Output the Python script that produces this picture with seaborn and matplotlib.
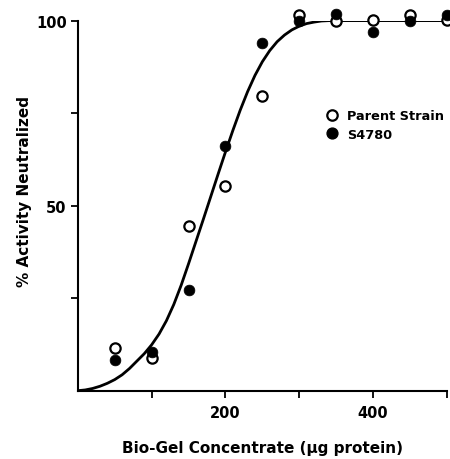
import matplotlib
matplotlib.use("Agg")
import matplotlib.pyplot as plt
import seaborn as sns
import pandas as pd
from matplotlib.lines import Line2D

# ---- data ----
conc = [50, 100, 150, 200, 250, 300, 350, 400, 450, 500]
parent_strain = [11.5, 8.8, 44.4, 55.2, 79.7, 101.5, 99.9, 100.1, 101.4, 100.3]
s4780 = [8.4, 10.4, 27.1, 66.2, 94.0, 100.0, 101.8, 96.9, 100.0, 101.4]

# fitted curve
curve_x = [0, 10, 20, 30, 40, 50, 60, 70, 80, 90, 100, 110, 120, 130, 140,
           150, 160, 170, 180, 190, 200, 210, 220, 230, 240, 250, 260, 270,
           280, 290, 300, 310, 320, 330, 340, 400, 450, 500]
curve_y = [0, 0.2, 0.6, 1.2, 2.0, 3.0, 4.3, 6.0, 8.0, 10.0, 12.4, 15.3, 18.9,
           23.3, 28.5, 34.3, 40.3, 46.3, 52.4, 58.5, 64.5, 70.3, 75.8, 80.8,
           85.2, 88.9, 91.9, 94.3, 96.1, 97.5, 98.5, 99.2, 99.6, 99.9, 100,
           100, 100, 100]

x_ticks = [100, 200, 300, 400, 500]
x_tick_labels = ["", "200", "", "400", ""]
y_ticks = [25, 50, 75, 100]
y_tick_labels = ["", "50", "", "100"]

series_names = ["Parent Strain", "S4780"]

sns.set_style("ticks")
plt.rcParams["font.family"] = ["DejaVu Sans"]
plt.rcParams["font.weight"] = "bold"
plt.rcParams["text.color"] = "black"
plt.rcParams["axes.labelcolor"] = "black"
plt.rcParams["xtick.color"] = "black"
plt.rcParams["ytick.color"] = "black"

fig = plt.figure(figsize=(4.5, 4.6), dpi=100)
ax = fig.add_axes([0.173, 0.1485, 0.82, 0.8045])

curve_df = pd.DataFrame({"x": curve_x, "y": curve_y})
sns.lineplot(data=curve_df, x="x", y="y", ax=ax, color="black", lw=2.0,
             estimator=None, sort=False, legend=False)

df_p = pd.DataFrame({"x": conc, "y": parent_strain})
df_s = pd.DataFrame({"x": conc, "y": s4780})
sns.scatterplot(data=df_p, x="x", y="y", ax=ax, s=55, facecolor="white",
                edgecolor="black", linewidth=1.6, zorder=4, clip_on=False,
                legend=False)
sns.scatterplot(data=df_s, x="x", y="y", ax=ax, s=60, color="black",
                edgecolor="black", linewidth=0.5, zorder=5, clip_on=False,
                legend=False)

ax.set_xlim(0, 500)
ax.set_ylim(0, 100)
ax.set_xticks(x_ticks)
ax.set_xticklabels(x_tick_labels)
ax.set_yticks(y_ticks)
ax.set_yticklabels(y_tick_labels)
sns.despine(ax=ax)
for sp in ["left", "bottom"]:
    ax.spines[sp].set_linewidth(1.5)
    ax.spines[sp].set_color("black")
ax.tick_params(axis="both", length=5, width=1.3, labelsize=10.5, colors="black")
ax.tick_params(axis="x", pad=5)
ax.tick_params(axis="y", pad=3)
for lab in ax.get_xticklabels() + ax.get_yticklabels():
    lab.set_fontweight("bold")

ax.set_xlabel("Bio-Gel Concentrate (μg protein)", fontsize=11,
              fontweight="bold", labelpad=15)
ax.set_ylabel("% Activity Neutralized", fontsize=11, fontweight="bold")
ax.yaxis.set_label_coords(-0.125, 0.542)

handles = [
    Line2D([], [], marker="o", ls="", markersize=7.5, markerfacecolor="white",
           markeredgecolor="black", markeredgewidth=1.6),
    Line2D([], [], marker="o", ls="", markersize=7.8, markerfacecolor="black",
           markeredgecolor="black"),
]
leg = ax.legend(handles, series_names, frameon=False, loc="upper left",
                bbox_to_anchor=(0.675, 0.76), handlelength=0.8,
                handletextpad=0.75, labelspacing=0.4, borderpad=0,
                borderaxespad=0, prop={"weight": "bold", "size": 9.3})

fig.savefig("out.png", dpi=100)
